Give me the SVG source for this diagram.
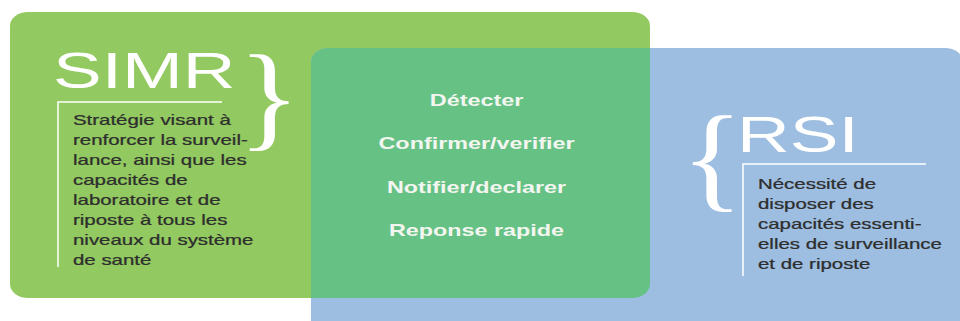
<svg xmlns="http://www.w3.org/2000/svg" width="960" height="321" viewBox="0 0 960 321">
  <style>
    .title { font-family: "Liberation Sans", Arial, sans-serif; font-size: 50px; fill: #ffffff; }
    .para { font-family: "Liberation Sans", Arial, sans-serif; font-size: 14px; fill: #2e2e2e; stroke: #2e2e2e; stroke-width: 0.25; }
    .step { font-family: "Liberation Sans", Arial, sans-serif; font-size: 16px; font-weight: bold; fill: #f3f6f0; text-anchor: middle; }
    .brace { font-family: "Liberation Serif", "Times New Roman", serif; font-size: 116px; fill: #ffffff; }
    .rule { stroke: #ffffff; stroke-width: 1.5; fill: none; }
  </style>
  <defs>
    <clipPath id="blueArea">
      <rect x="311" y="48" width="652" height="300" rx="18" ry="14"/>
    </clipPath>
  </defs>

  <rect width="960" height="321" fill="#ffffff"/>

  <!-- SIMR panel -->
  <g id="simr">
    <rect x="10" y="12" width="640" height="286" rx="18" ry="14" fill="#92c960"/>
  </g>

  <!-- RSI panel -->
  <g id="rsi">
    <rect x="311" y="48" width="652" height="300" rx="18" ry="14" fill="#9dbee0"/>
    <g transform="translate(737,152) scale(1.46,1)">
      <text class="title" x="0" y="0">RSI</text>
    </g>
    <g transform="translate(681,196) scale(1.12,1)">
      <text class="brace" x="0" y="0">{</text>
    </g>
    <path class="rule" d="M926,164 H743 V276"/>
    <g transform="translate(758,0) scale(1.46,1)">
      <text class="para">
        <tspan x="0" y="189">Nécessité de</tspan>
        <tspan x="0" y="209">disposer des</tspan>
        <tspan x="0" y="229">capacités essenti-</tspan>
        <tspan x="0" y="249">elles de surveillance</tspan>
        <tspan x="0" y="269">et de riposte</tspan>
      </text>
    </g>
  </g>

  <!-- shared area: both panels overlap -->
  <g id="actions">
    <rect x="10" y="12" width="640" height="286" rx="18" ry="14" fill="#66c184" clip-path="url(#blueArea)"/>
    <g transform="translate(476.5,0) scale(1.46,1)">
      <text class="step" x="0" y="106">Détecter</text>
      <text class="step" x="0" y="149.5">Confirmer/verifier</text>
      <text class="step" x="0" y="193">Notifier/declarer</text>
      <text class="step" x="0" y="236">Reponse rapide</text>
    </g>
  </g>

  <!-- SIMR labels, drawn above the shared area -->
  <g id="simr-labels">
    <g transform="translate(53,88) scale(1.46,1)">
      <text class="title" x="0" y="0">SIMR</text>
    </g>
    <g transform="translate(238,135) scale(1.12,1)">
      <text class="brace" x="0" y="0">}</text>
    </g>
    <path class="rule" d="M222,102 H58 V267"/>
    <g transform="translate(73,0) scale(1.46,1)">
      <text class="para">
        <tspan x="0" y="125">Stratégie visant à</tspan>
        <tspan x="0" y="145">renforcer la surveil-</tspan>
        <tspan x="0" y="165">lance, ainsi que les</tspan>
        <tspan x="0" y="185">capacités de</tspan>
        <tspan x="0" y="205">laboratoire et de</tspan>
        <tspan x="0" y="225">riposte à tous les</tspan>
        <tspan x="0" y="245">niveaux du système</tspan>
        <tspan x="0" y="265">de santé</tspan>
      </text>
    </g>
  </g>
</svg>
